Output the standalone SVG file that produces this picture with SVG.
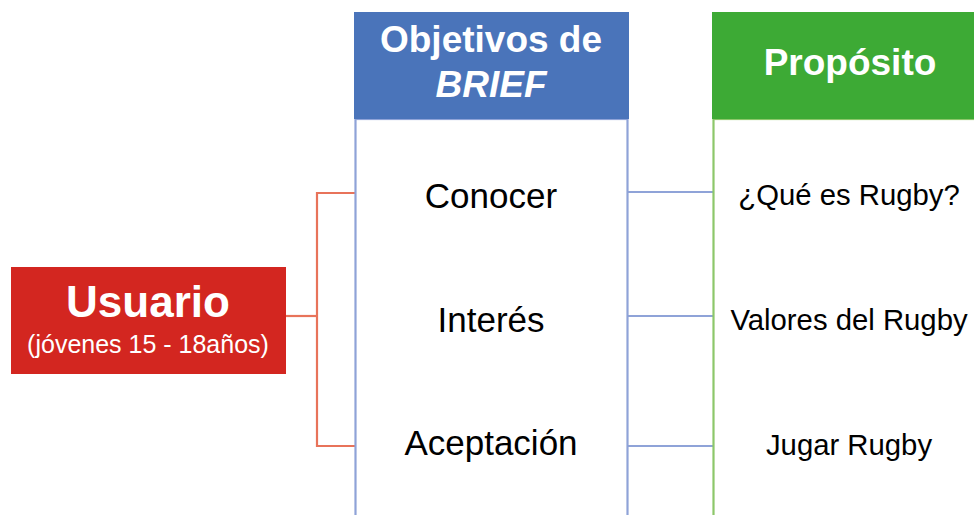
<svg xmlns="http://www.w3.org/2000/svg" width="974" height="515" viewBox="0 0 974 515">
<style>
.hdr{font-family:"Liberation Sans",Arial,sans-serif;font-weight:bold;fill:#fff;text-anchor:middle}
.item{font-family:"Liberation Sans",Arial,sans-serif;fill:#000;text-anchor:middle}
.red{stroke:#E8735A;stroke-width:2.2;fill:none}
.blue{stroke:#8FA3D8;stroke-width:2.2;fill:none}
.green{stroke:#8DC76A;stroke-width:2.2;fill:none}
</style>
<rect width="974" height="515" fill="#fff"/>
<g id="connectors">
<polyline class="red" points="286,316 317,316"/>
<polyline class="red" points="355,193 317,193 317,446 355,446"/>
<line class="blue" x1="627" y1="192" x2="713" y2="192"/>
<line class="blue" x1="627" y1="316" x2="713" y2="316"/>
<line class="blue" x1="627" y1="446" x2="713" y2="446"/>
</g>
<g id="usuario">
<rect x="11" y="267" width="275" height="107" fill="#D32620"/>
<text class="hdr" x="148" y="317" font-size="44">Usuario</text>
<text class="hdr" x="148" y="353" font-size="25" font-weight="normal" style="font-weight:normal">(jóvenes 15 - 18años)</text>
</g>
<g id="objetivos">
<rect class="blue" x="355.5" y="119" width="272" height="410"/>
<rect x="354" y="12" width="275" height="107" fill="#4A74BA"/>
<text class="hdr" x="491" y="52" font-size="37">Objetivos de</text>
<text class="hdr" x="491" y="97" font-size="37" font-style="italic">BRIEF</text>
<text class="item" x="491" y="208" font-size="35">Conocer</text>
<text class="item" x="491" y="332" font-size="35">Interés</text>
<text class="item" x="491" y="455" font-size="35">Aceptación</text>
</g>
<g id="proposito">
<rect class="green" x="713.5" y="119" width="280" height="410"/>
<rect x="712" y="12" width="270" height="107" fill="#3DAA35"/>
<text class="hdr" x="850" y="75" font-size="37">Propósito</text>
<text class="item" x="849" y="205" font-size="29.3">¿Qué es Rugby?</text>
<text class="item" x="849" y="330" font-size="29.3">Valores del Rugby</text>
<text class="item" x="849" y="455" font-size="29.3">Jugar Rugby</text>
</g>
</svg>
